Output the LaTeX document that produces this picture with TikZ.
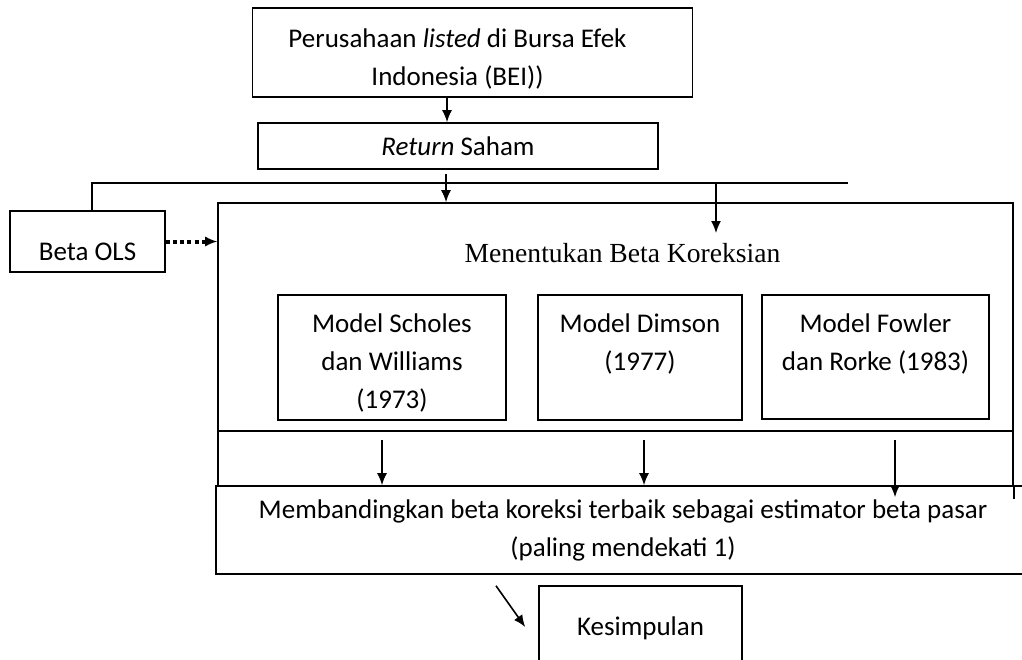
\documentclass[tikz,border=0pt]{standalone}
\usepackage{fontspec}
\setmainfont{Carlito}
\newfontfamily\hurufserif{Liberation Serif}
\usetikzlibrary{calc,arrows.meta}
\tikzset{kotak/.style={draw,line width=0.8pt,align=center,inner sep=0pt},
	garis/.style={line width=0.8pt},
	panah/.style={->,line width=0.8pt}}
\begin{document}
\begin{tikzpicture}[>={Latex[length=6pt,width=5pt]},x=0.5pt,y=-0.5pt,font=\fontsize{13.5}{19}\selectfont]
		\useasboundingbox (0,0) rectangle (1022,659);
		\node[kotak,minimum width=220pt,minimum height=44.5pt,label={[align=center,xshift=-7.5pt,yshift=-3.25pt]center:Perusahaan \textit{listed} di Bursa Efek\\Indonesia (BEI))}] (bei) at (472.5,52.5) {};
		\node[kotak,minimum width=200pt,minimum height=23pt] (saham) at (458,146) {\textit{Return} Saham};
		\node[kotak,minimum width=77.5pt,minimum height=30.5pt,label={[yshift=-5.25pt]center:Beta OLS}] (ols) at (87.5,241.5) {};
		\node[kotak,minimum width=397.5pt,minimum height=114pt] (koreksi) at (615.5,317) {};
		\node[font=\hurufserif\fontsize{13.8}{16}\selectfont] (judul) at (622.5,253) {Menentukan Beta Koreksian};
		\node[kotak,minimum width=114pt,minimum height=62.5pt,label={[align=center,yshift=-2.75pt]center:Model Scholes\\dan Williams\\(1973)}] (scholes) at (392,357.5) {};
		\node[kotak,minimum width=102pt,minimum height=62.5pt,label={[align=center,yshift=6.75pt]center:Model Dimson\\(1977)}] (dimson) at (640,357.5) {};
		\node[kotak,minimum width=113.5pt,minimum height=62pt,label={[align=center,yshift=6.5pt]center:Model Fowler\\dan Rorke (1983)}] (fowler) at (875.5,357) {};
		\node[kotak,minimum width=397.5pt,minimum height=27.5pt] (pita) at (615.5,458.5) {};
		\node[kotak,minimum width=407pt,minimum height=44pt] (banding) at (623,530) {Membandingkan beta koreksi terbaik sebagai estimator beta pasar\\(paling mendekati 1)};
		\node[kotak,minimum width=101.5pt,minimum height=42pt] (kes) at (640.5,628) {Kesimpulan};
		\draw[panah] (447,0 |- bei.south) -- (447,0 |- saham.north);
		\draw[panah] ($(446,0 |- saham.south)+(0,4)$) -- (446,0 |- koreksi.north);
		\draw[garis] (92,0 |- ols.north) |- (848,183) coordinate (ujung);
		\coordinate (cabang) at (716,183);\draw[panah] (cabang) -- ++(0,50);
		\draw[panah,dash pattern=on 2pt off 1.6pt,line width=2pt,-{Latex[length=6pt,width=5pt,line width=0.8pt]}] (ols.east) -- (koreksi.west |- ols.east);
		\foreach \x in {382,644} \draw[panah] ($(\x,0 |- pita.north)+(0,10)$) -- (\x,0 |- banding.north);
		\draw[panah] ($(895,0 |- pita.north)+(0,10)$) -- ($(895,0 |- banding.north)+(0,12)$);
		\draw[garis] (pita.south east) -- ++(0,12);
		\draw[panah] ($(banding.south)+(-127,11)$) -- ($(kes.west)+(-13,-1)$);
	\end{tikzpicture}
\end{document}
